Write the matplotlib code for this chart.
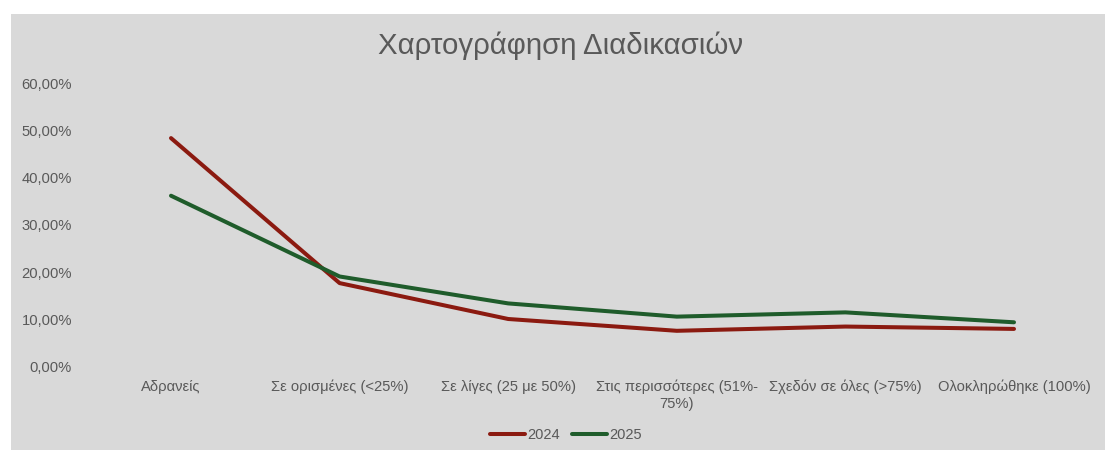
import matplotlib
matplotlib.use("Agg")
import matplotlib.pyplot as plt
from matplotlib.patches import Rectangle
from matplotlib.ticker import FuncFormatter

categories = ["Αδρανείς", "Σε ορισμένες (<25%)", "Σε λίγες (25 με 50%)",
              "Στις περισσότερες (51%-\n75%)", "Σχεδόν σε όλες (>75%)", "Ολοκληρώθηκε (100%)"]
series_2024 = [0.484, 0.177, 0.101, 0.076, 0.085, 0.080]
series_2025 = [0.362, 0.191, 0.134, 0.106, 0.115, 0.094]
y_ticks = [0.0, 0.1, 0.2, 0.3, 0.4, 0.5, 0.6]

plt.rcParams['font.family'] = ['Liberation Sans', 'DejaVu Sans']
txt = '#595959'
red = '#8B1A10'
green = '#1F5C2B'
bg = '#D9D9D9'

W, H = 1105, 450
fig = plt.figure(figsize=(W / 100, H / 100), dpi=100, facecolor='white')
fig.patches.append(Rectangle((11 / W, 0), (W - 11) / W, (H - 14) / H,
                             transform=fig.transFigure, facecolor=bg, edgecolor='none', zorder=-10))

left, right = 86.7, 1098.3
top, bottom = 83.3, 366.7
ax = fig.add_axes([left / W, 1 - bottom / H, (right - left) / W, (bottom - top) / H])
ax.set_facecolor('none')
ax.set_zorder(1)

x = list(range(len(categories)))
ax.plot(x, series_2024, color=red, lw=2.9, solid_capstyle='round', solid_joinstyle='round', label='2024')
ax.plot(x, series_2025, color=green, lw=2.9, solid_capstyle='round', solid_joinstyle='round', label='2025')

ax.set_xlim(-0.5, len(categories) - 0.5)
ax.set_ylim(0, 0.6)
ax.set_yticks(y_ticks)
ax.yaxis.set_major_formatter(FuncFormatter(lambda v, p: f"{v*100:.2f}%".replace('.', ',')))
ax.set_xticks(x)
ax.set_xticklabels(categories, linespacing=1.2)
for s in ax.spines.values():
    s.set_visible(False)
ax.tick_params(axis='both', length=0, colors=txt, labelsize=10.6)
ax.tick_params(axis='y', pad=10.5)
ax.tick_params(axis='x', pad=9.5)

t = fig.text(561 / W, 1 - 46 / H, "Χαρτογράφηση Διαδικασιών", ha='center', va='center',
             fontsize=21.2, color=txt)
t.set_zorder(5)

leg = ax.legend(loc='center', bbox_to_anchor=(566 / W, 1 - 435 / H), bbox_transform=fig.transFigure,
                ncol=2, frameon=False, fontsize=10.5, handlelength=2.4, handletextpad=0.2,
                columnspacing=0.8, labelcolor=txt)

fig.savefig("out.png", dpi=100, facecolor='white')
